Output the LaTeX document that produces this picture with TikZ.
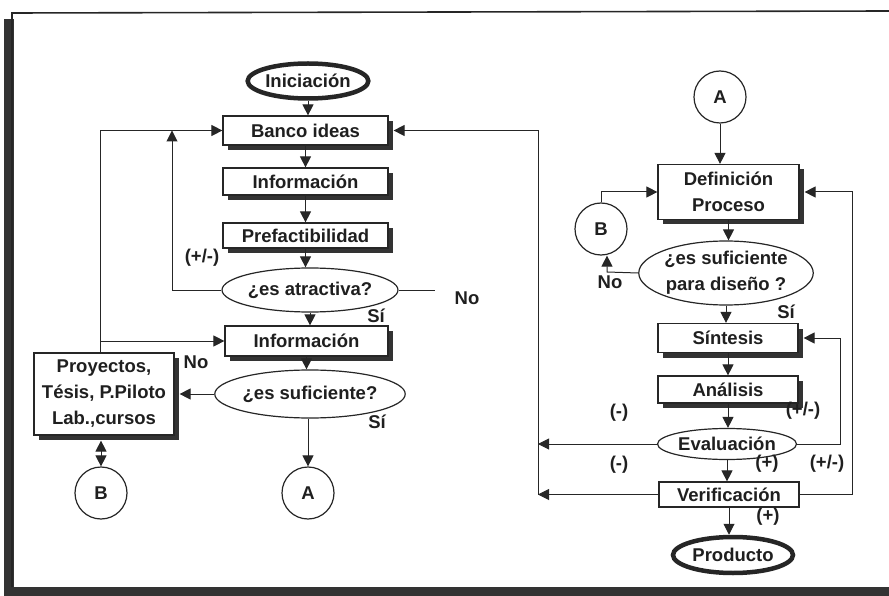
\documentclass[tikz,border=0pt]{standalone}
\usepackage{fontspec}
\setmainfont{Liberation Sans}
\usetikzlibrary{arrows.meta,shapes.geometric,shadows,calc}
\begin{document}
\begin{tikzpicture}[x=1pt,y=-1pt,
  every node/.style={font=\bfseries\fontsize{18.5}{26}\selectfont, text=black!88, inner sep=0pt},
  box/.style={draw=black!85, line width=1.2pt, fill=white, rectangle, align=center},
  sbox/.style={box, drop shadow={shadow xshift=5pt, shadow yshift=-5pt, fill=black!80, opacity=1}},
  ell/.style={draw=black!85, line width=1.2pt, fill=white, ellipse, align=center},
  term/.style={ell, line width=4.5pt},
  conn/.style={circle, draw=black!85, line width=1.2pt, fill=white, minimum size=52pt},
  line/.style={draw=black!85, line width=1pt},
  arr/.style={line, -{Triangle[length=11pt,width=11pt]}},
  arrb/.style={line, {Triangle[length=11pt,width=11pt]}-{Triangle[length=11pt,width=11pt]}}
]
\useasboundingbox (0,0) rectangle (889,596);
% frame
\fill[black!80] (4,19) rectangle (14,596);
\fill[black!80] (4,587) rectangle (889,596);
\draw[black!85, line width=1.6pt] (12,587) -- (12,13) -- (889,11);

% left column
\node[term, minimum width=120pt, minimum height=35pt] (ini) at (308,81) {Iniciación};
\node[sbox, minimum width=165pt, minimum height=29pt] (banco) at (305.5,130.5) {Banco ideas};
\node[sbox, minimum width=165pt, minimum height=27pt] (info1) at (305.5,181.5) {Información};
\node[sbox, minimum width=165pt, minimum height=25pt] (pref) at (305.5,235.5) {Prefactibilidad};
\node[ell, minimum width=172pt, minimum height=44pt] (atr) at (310,290) {¿es atractiva?};
\node[sbox, minimum width=163pt, minimum height=30pt] (info2) at (306.5,341) {Información};
\node[ell, minimum width=173pt, minimum height=48pt] (suf) at (310,394) {¿es suficiente?};
\node[sbox, minimum width=140pt, minimum height=82pt] (proy) at (104,394) {Proyectos,\\Tésis, P.Piloto\\Lab.,cursos};
\node[conn] (B1) at (101,493) {B};
\node[conn] (A1) at (308,493) {A};

% right column
\node[conn] (A2) at (720,97) {A};
\node[sbox, minimum width=141pt, minimum height=55pt] (def) at (728.5,192) {Definición\\Proceso};
\node[conn] (B2) at (601,229) {B};
\node[ell, minimum width=164pt, minimum height=64pt] (sufd) at (726,273) {¿es suficiente\\para diseño ?};
\node[sbox, minimum width=140pt, minimum height=29pt] (sin) at (728,338) {Síntesis};
\node[sbox, minimum width=140pt, minimum height=27pt] (ana) at (728,389.5) {Análisis};
\node[ell, minimum width=139pt, minimum height=31pt] (eva) at (727,444) {Evaluación};
\node[box, minimum width=140pt, minimum height=25pt] (ver) at (729,494.5) {Verificación};
\node[term, minimum width=120pt, minimum height=36pt] (prod) at (733,555) {Producto};

% left connectors
\draw[arr] (ini.south) -- (ini.south |- banco.north);
\draw[arr] (banco.south) -- (banco.south |- info1.north);
\draw[arr] (info1.south) -- (info1.south |- pref.north);
\draw[arr] (pref.south) -- (pref.south |- atr.north);
\draw[arr] (atr.south) -- (atr.south |- info2.north);
\draw[arr] (info2.south) -- (info2.south |- suf.north);
\draw[arr] (A1.north |- suf.south) -- (A1.north);
\coordinate (p) at (172,0);
\draw[arr] (atr.west) -| (p |- banco.west);
\coordinate (q) at (100,0);
\draw[arr] (proy.north -| q) |- (banco.west);
\draw[arr] (proy.north -| q) |- (info2.west);
\draw[arr] (suf.west) -- ($(proy.east)+(5,0)$);
\draw[arrb] (B1.north) -- ($(B1.north |- proy.south)+(0,5)$);
\coordinate (n1) at (435,290);
\draw[line] (atr.east) -- (n1);

% right connectors
\draw[arr] (A2.south) -- (A2.south |- def.north);
\draw[arr] (B2.north) |- (def.west);
\draw[arr] (def.south) -- ($(def.south |- sufd.north)$);
\coordinate (nb) at (607,272);
\draw[arr] (sufd.west) -- (nb) -- (nb |- B2.south);
\draw[arr] (sufd.south) -- (sufd.south |- sin.north);
\draw[arr] (sin.south) -- (sin.south |- ana.north);
\draw[arr] (ana.south) -- (ana.south |- eva.north);
\draw[arr] (eva.south) -- (eva.south |- ver.north);
\draw[arr] (ver.south) -- (ver.south |- prod.north);
\coordinate (r) at (538,0);
\draw[arr] (eva.west) -- (eva.west -| r);
\draw[arr] (ver.west) -- (ver.west -| r);
\draw[arr] (ver.west -| r) |- ($(banco.east)+(5,0)$);
\coordinate (c1) at (840,0);
\draw[arr] (eva.east) -- (eva.east -| c1) |- ($(sin.east)+(5,0)$);
\coordinate (c2) at (852,0);
\draw[arr] (ver.east) -- (ver.east -| c2) |- ($(def.east)+(5,0)$);

% labels
\node (l1) at (202,258) {(+/-)};
\node (l2) at (376,316) {Sí};
\node (l3) at (196,362) {No};
\node (l4) at (377,422) {Sí};
\node (l5) at (467,298) {No};
\node (l6) at (610,282) {No};
\node (l7) at (786,312) {Sí};
\node (l8) at (619,413) {(-)};
\node (l9) at (803,411) {(+/-)};
\node (l10) at (619,465) {(-)};
\node (l11) at (767,464) {(+)};
\node (l12) at (827,464) {(+/-)};
\node (l13) at (768,517) {(+)};
\end{tikzpicture}
\end{document}
